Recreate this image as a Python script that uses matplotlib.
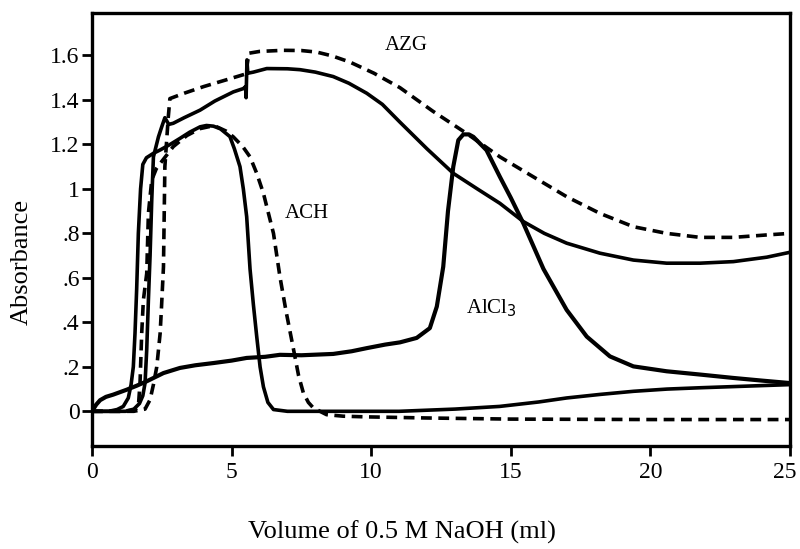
import matplotlib
matplotlib.use('Agg')
import matplotlib.pyplot as plt
import matplotlib.transforms as mtransforms

plt.rcParams['font.family'] = ['Liberation Serif', 'DejaVu Serif']

# ACH, solid
ach_x = [0, 0.6, 0.9, 1.12, 1.3, 1.4, 1.48, 1.54, 1.6, 1.66, 1.74, 1.82, 1.95, 2.2, 2.44,
         2.8, 3.15, 3.5, 3.87, 4.1, 4.35, 4.6, 4.94, 5.1, 5.3, 5.42, 5.54, 5.66, 5.78, 5.9,
         6.02, 6.14, 6.3, 6.5, 7, 9, 11, 13, 14.6, 16, 17, 18.2, 19.4, 20.6, 21.8, 23.4, 25]
ach_y = [0, 0, 0.008, 0.022, 0.06, 0.12, 0.2, 0.35, 0.55, 0.8, 1.0, 1.11, 1.14, 1.16, 1.175,
         1.2, 1.227, 1.255, 1.279, 1.285, 1.282, 1.27, 1.235, 1.18, 1.1, 1.0, 0.875, 0.64, 0.48, 0.336,
         0.2, 0.11, 0.04, 0.008, 0, 0, 0, 0.01, 0.022, 0.042, 0.06, 0.076, 0.09, 0.1, 0.106, 0.113, 0.12]

# ACH, dashed
ach2_x = [0, 1.0, 1.5, 1.66, 1.72, 1.78, 1.84, 1.96, 2.02, 2.14, 2.3, 2.44, 2.91, 3.4, 3.87,
          4.2, 4.47, 4.8, 5.06, 5.4, 5.66, 5.9, 6.14, 6.3, 6.5, 6.73, 6.95, 7.2, 7.4, 7.57,
          7.75, 7.93, 8.4, 9.0, 9.84, 12, 15, 20, 25]
ach2_y = [0, 0, 0.005, 0.02, 0.127, 0.35, 0.5, 0.62, 0.89, 1.04, 1.09, 1.114, 1.19, 1.24, 1.271,
          1.28, 1.279, 1.26, 1.234, 1.19, 1.144, 1.07, 0.98, 0.9, 0.8, 0.606, 0.45, 0.29, 0.16, 0.083,
          0.04, 0.015, -0.015, -0.022, -0.025, -0.03, -0.035, -0.037, -0.037]

# AZG, solid
azg_x = [0, 1.2, 1.5, 1.7, 1.82, 1.9, 1.96, 2.02, 2.08, 2.14, 2.2, 2.38, 2.5, 2.61, 2.75,
         2.91, 3.3, 3.87, 4.4, 5.06, 5.42, 5.5, 5.52, 5.55, 5.58, 5.78, 6.26, 7.0, 7.45, 8.0,
         8.64, 9.2, 9.84, 10.4, 11.03, 12.0, 12.94, 13.8, 14.61, 15.45, 16.2, 17.0, 18.19, 19.39,
         20.58, 21.78, 22.97, 24.17, 25]
azg_y = [0, 0, 0.01, 0.035, 0.07, 0.127, 0.277, 0.5, 0.7, 0.95, 1.144, 1.234, 1.28, 1.32, 1.29,
         1.295, 1.32, 1.354, 1.395, 1.436, 1.451, 1.46, 1.41, 1.58, 1.52, 1.525, 1.541, 1.54, 1.536, 1.525,
         1.505, 1.475, 1.43, 1.38, 1.3, 1.18, 1.07, 1.0, 0.935, 0.853, 0.8, 0.756, 0.711, 0.68,
         0.666, 0.666, 0.673, 0.693, 0.715]

# AZG, dashed
azg2_x = [0, 1.5, 1.9, 2.08, 2.2, 2.32, 2.44, 2.49, 2.56, 2.61, 2.73, 2.79, 3.3, 4.0, 4.8,
          5.54, 5.56, 5.62, 6.0, 6.85, 7.5, 8.05, 8.6, 9.24, 10.1, 11.03, 12.2, 13.42, 14.61,
          15.81, 17.0, 18.19, 19.39, 20.58, 21.78, 22.97, 24.17, 25]
azg2_y = [0, 0, 0.01, 0.052, 0.12, 0.2, 0.35, 0.47, 0.65, 1.1, 1.32, 1.406, 1.43, 1.46, 1.49,
          1.518, 1.56, 1.61, 1.618, 1.623, 1.622, 1.615, 1.598, 1.57, 1.52, 1.455, 1.35, 1.249, 1.144,
          1.054, 0.965, 0.89, 0.83, 0.8, 0.782, 0.782, 0.793, 0.8]

# AlCl3, solid
alcl_x = [0, 0.15, 0.29, 0.5, 0.76, 1.24, 1.6, 1.96, 2.56, 3.15, 3.7, 4.35, 5.0, 5.54, 6.2,
          6.73, 7.5, 8.64, 9.3, 9.84, 10.5, 11.03, 11.63, 12.1, 12.35, 12.58, 12.75, 12.94, 13.12,
          13.3, 13.5, 13.66, 14.13, 14.61, 15.0, 15.45, 16.17, 17.0, 17.72, 18.55, 19.39, 20.58,
          21.8, 22.97, 24.0, 25]
alcl_y = [0, 0.03, 0.05, 0.065, 0.075, 0.097, 0.115, 0.135, 0.172, 0.195, 0.207, 0.217, 0.228, 0.24, 0.245,
          0.254, 0.252, 0.258, 0.27, 0.284, 0.3, 0.31, 0.33, 0.374, 0.471, 0.65, 0.9, 1.1, 1.219,
          1.245, 1.245, 1.234, 1.174, 1.054, 0.96, 0.845, 0.64, 0.456, 0.336, 0.247, 0.202, 0.18,
          0.165, 0.15, 0.138, 0.127]

labels = ['AZG', 'ACH', 'AlCl$_3$']
label_pos = [(11.24, 1.645), (7.7, 0.89), (14.3, 0.465)]

fig = plt.figure(figsize=(8, 5.49), dpi=100)
ax = fig.add_axes([0.115, 0.188, 0.8725, 0.788])

lw = 2.6
ax.plot(ach_x, ach_y, color='black', lw=lw)
ax.plot(ach2_x, ach2_y, color='black', lw=lw, dashes=(3, 1.8))
ax.plot(azg_x, azg_y, color='black', lw=lw)
ax.plot(azg2_x, azg2_y, color='black', lw=lw, dashes=(3, 1.8))
ax.plot(alcl_x, alcl_y, color='black', lw=3.0)

for txt, (tx, ty) in zip(labels, label_pos):
    ax.text(tx, ty, txt, fontsize=15, ha='center', va='center')

ax.set_xlim(0, 25)
ax.set_ylim(-0.155, 1.79)
ax.set_xticks([0, 5, 10, 15, 20, 25])
ax.set_yticks([0, 0.2, 0.4, 0.6, 0.8, 1.0, 1.2, 1.4, 1.6])
ax.set_yticklabels(['0', '.2', '.4', '.6', '.8', '1', '1.2', '1.4', '1.6'])
ax.tick_params(direction='out', length=7, width=2, labelsize=17)
ax.tick_params(axis='x', pad=5)
ax.tick_params(axis='y', pad=2)

# last x label sits on the figure edge; nudge it in a few pixels so it is not clipped
last = ax.get_xticklabels()[-1]
last.set_transform(last.get_transform() + mtransforms.ScaledTranslation(-4 / 72, 0, fig.dpi_scale_trans))

for sp in ax.spines.values():
    sp.set_linewidth(2.4)

ax.set_xlabel('Volume of 0.5 M NaOH (ml)', fontsize=19)
ax.xaxis.set_label_coords(0.444, -0.2, transform=ax.transAxes)
ax.xaxis.label.set_va('center')
ax.set_ylabel('Absorbance', fontsize=19)
ax.yaxis.set_label_coords(-0.1, 0.426, transform=ax.transAxes)
ax.yaxis.label.set_va('center')

plt.savefig('out.png', dpi=100)
